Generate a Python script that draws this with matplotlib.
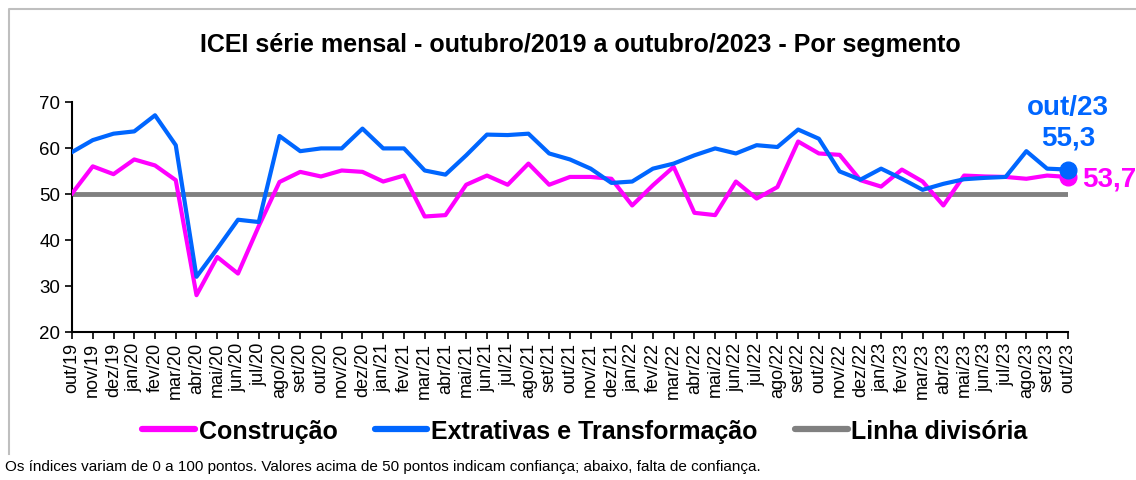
import matplotlib.pyplot as plt
from matplotlib.lines import Line2D

plt.rcParams['font.family'] = ['Liberation Sans', 'DejaVu Sans']

meses = ['jan', 'fev', 'mar', 'abr', 'mai', 'jun', 'jul', 'ago', 'set', 'out', 'nov', 'dez']
labels = []
for ano in range(19, 24):
    for m in meses:
        labels.append(f'{m}/{ano}')
labels = labels[9:9 + 49]  # out/19 .. out/23

construcao = [50.1, 56.0, 54.3, 57.5, 56.2, 53.0, 28.0, 36.3, 32.7, 43.0,
              52.6, 54.8, 53.8, 55.1, 54.8, 52.7, 54.0, 45.1, 45.4, 52.0,
              54.0, 52.0, 56.6, 52.0, 53.7, 53.7, 53.3, 47.5, 51.9, 55.9,
              45.9, 45.4, 52.7, 49.0, 51.5, 61.4, 58.8, 58.5, 53.0, 51.6,
              55.3, 52.7, 47.5, 54.0, 53.8, 53.7, 53.3, 54.0, 53.7]
extrativas = [59.1, 61.7, 63.1, 63.6, 67.1, 60.6, 32.0, 38.1, 44.4, 43.9,
              62.6, 59.3, 59.9, 59.9, 64.2, 59.9, 59.9, 55.1, 54.2, 58.4,
              62.9, 62.8, 63.1, 58.8, 57.5, 55.5, 52.4, 52.7, 55.5, 56.6,
              58.4, 59.9, 58.8, 60.6, 60.2, 64.0, 62.0, 54.9, 53.1, 55.5,
              53.3, 50.9, 52.2, 53.2, 53.5, 53.7, 59.3, 55.5, 55.3]
divisoria = [50] * len(labels)

rosa = '#FF00FF'
azul = '#0066FF'
cinza = '#808080'

fig = plt.figure(figsize=(11.36, 4.81), dpi=100)
ax = fig.add_axes([0.0634, 0.3077, 0.8766, 0.4783])

x = list(range(len(labels)))
ax.plot(x, divisoria, color=cinza, lw=3.5, label='Linha divisória', zorder=2)
ax.plot(x, construcao, color=rosa, lw=3, label='Construção', zorder=3)
ax.plot(x, extrativas, color=azul, lw=3, label='Extrativas e Transformação', zorder=4)
ax.plot(x[-1], construcao[-1], 'o', color=rosa, ms=12, zorder=5, clip_on=False)
ax.plot(x[-1], extrativas[-1], 'o', color=azul, ms=12, zorder=6, clip_on=False)

ax.annotate('out/23\n' + f'{extrativas[-1]:.1f}'.replace('.', ','), (x[-1], extrativas[-1]),
            xytext=(0, 14), textcoords='offset points', ha='center', va='bottom',
            color=azul, fontsize=20, fontweight='bold', linespacing=1.2)
ax.annotate(f'{construcao[-1]:.1f}'.replace('.', ','), (x[-1], construcao[-1]),
            xytext=(10, -1), textcoords='offset points', ha='left', va='center',
            color=rosa, fontsize=20, fontweight='bold')

ax.set_xlim(0, len(labels) - 1)
ax.set_ylim(20, 70)
ax.set_yticks(range(20, 71, 10))
ax.set_xticks(x)
ax.set_xticklabels(labels, rotation=90, fontsize=13)
ax.tick_params(axis='y', labelsize=13.5, length=5, width=1.2)
ax.tick_params(axis='x', length=5, width=1.2, pad=2)
for s in ['top', 'right']:
    ax.spines[s].set_visible(False)
for s in ['left', 'bottom']:
    ax.spines[s].set_linewidth(1.5)

fig.text(0.511, 0.906, 'ICEI série mensal - outubro/2019 a outubro/2023 - Por segmento',
         ha='center', va='center', fontsize=18, fontweight='bold')

handles, lbls = ax.get_legend_handles_labels()
order = [1, 2, 0]
leg = fig.legend([handles[i] for i in order], [lbls[i] for i in order],
                 loc='center', bbox_to_anchor=(0.515, 0.102), ncol=3, frameon=False,
                 prop={'size': 18, 'weight': 'bold'}, handlelength=2.1,
                 handletextpad=0.15, columnspacing=1.5)
for lh in leg.get_lines():
    lh.set_linewidth(4.5)
    lh.set_solid_capstyle('round')

fig.text(0.004, 0.03, 'Os índices variam de 0 a 100 pontos. Valores acima de 50 pontos indicam confiança; abaixo, falta de confiança.',
         ha='left', va='center', fontsize=11)

# moldura da área do gráfico
fig.add_artist(Line2D([0.0079, 0.0079, 1.0], [0.054, 0.980, 0.980],
                      transform=fig.transFigure, color='#BFBFBF', lw=1.5))

fig.savefig('out.png', dpi=100)
